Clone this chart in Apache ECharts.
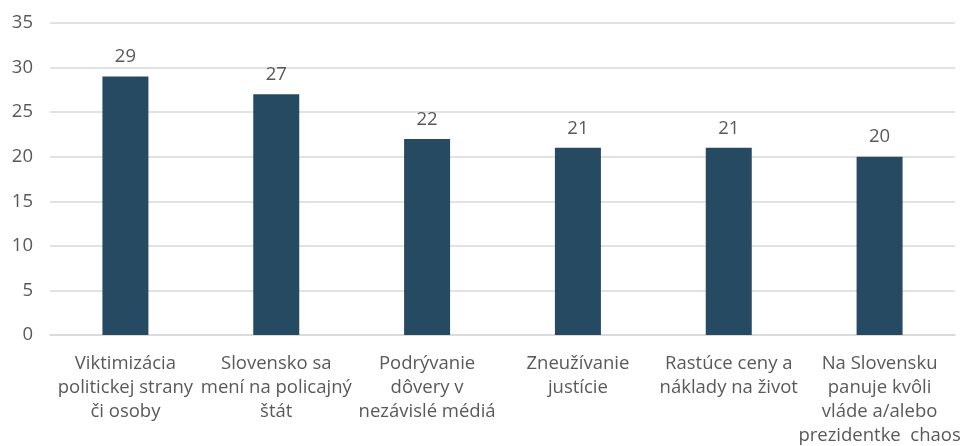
<!DOCTYPE html>
<html>
<head>
<meta charset="utf-8">
<script src="https://cdn.jsdelivr.net/npm/echarts@6/dist/echarts.min.js"></script>
<style>
html,body{margin:0;padding:0;background:#fff;}
#chart{width:969px;height:446px;}
</style>
</head>
<body>
<div id="chart"></div>
<script>
const categories = [
  "Viktimizácia\npolitickej strany\nči osoby",
  "Slovensko sa\nmení na policajný\nštát",
  "Podrývanie\ndôvery v\nnezávislé médiá",
  "Zneužívanie\njustície",
  "Rastúce ceny a\nnáklady na život",
  "Na Slovensku\npanuje kvôli\nvláde a/alebo\nprezidentke  chaos"
];
const values = [29, 27, 22, 21, 21, 20];
const yTicks = [0, 5, 10, 15, 20, 25, 30, 35];

const chart = echarts.init(document.getElementById('chart'));
const font = '"Open Sans", sans-serif';
chart.setOption({
  animation: false,
  grid: { left: 50, right: 14, top: 23, bottom: 111, containLabel: false, outerBoundsMode: 'none' },
  xAxis: {
    type: 'category',
    data: categories,
    axisLine: { show: true, lineStyle: { color: '#d9d9d9', width: 1.5 } },
    axisTick: { show: false },
    axisLabel: {
      interval: 0,
      color: '#595959',
      fontFamily: font,
      fontSize: 18.5,
      lineHeight: 24,
      margin: 17,
      align: 'center'
    }
  },
  yAxis: {
    type: 'value',
    min: yTicks[0],
    max: yTicks[yTicks.length - 1],
    interval: 5,
    axisLine: { show: false },
    axisTick: { show: false },
    splitLine: { lineStyle: { color: '#d9d9d9', width: 1.5 } },
    axisLabel: {
      color: '#595959',
      fontFamily: font,
      fontSize: 18.5,
      margin: 17
    }
  },
  series: [{
    type: 'bar',
    data: values,
    barWidth: 46,
    itemStyle: { color: '#274a63' },
    label: {
      show: true,
      position: 'top',
      distance: 10,
      color: '#595959',
      fontFamily: font,
      fontSize: 18.5
    }
  }]
});
</script>
</body>
</html>
